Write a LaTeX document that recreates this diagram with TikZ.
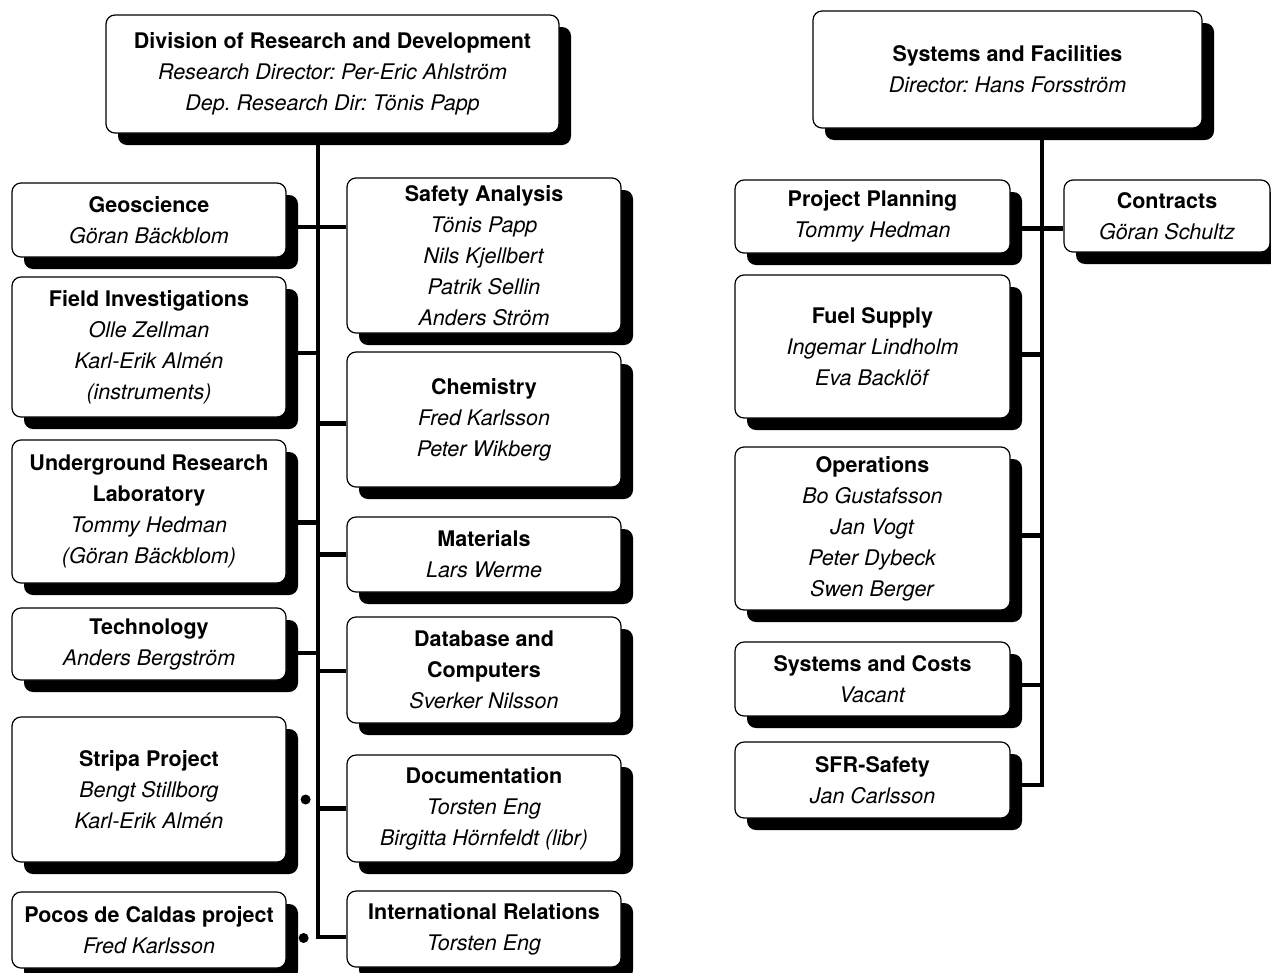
\documentclass[tikz,border=0pt]{standalone}
\usepackage{fontspec}
\setmainfont{TeX Gyre Heros}
\frenchspacing
\usetikzlibrary{shadows, calc}

\begin{document}
\begin{tikzpicture}[
    x=1pt, y=-1pt,
    obox/.style={draw, line width=1.2pt, rounded corners=9pt, fill=white,
                 align=center, inner sep=0pt, minimum width=274pt,
                 font=\fontsize{21.5}{31}\selectfont,
                 drop shadow={fill=black, opacity=1,
                              shadow xshift=12pt, shadow yshift=-12pt}},
    link/.style={line width=4.5pt},
    dot/.style={circle, fill, inner sep=0pt, minimum size=10pt}
  ]
  \useasboundingbox (0,0) rectangle (1271,972);

  % research and development
  \node[obox, minimum width=453pt, minimum height=118pt] (div) at (332.5,74)
    {\textbf{Division of Research and Development}\\
     \textit{Research Director: Per-Eric Ahlström}\\
     \textit{Dep. Research Dir: Tönis Papp}};

  \node[obox, minimum height=74pt] (geo) at (149,220)
    {\textbf{Geoscience}\\\textit{Göran Bäckblom}};
  \node[obox, minimum height=140pt] (field) at (149,347)
    {\textbf{Field Investigations}\\\textit{Olle Zellman}\\
     \textit{Karl-Erik Almén}\\\textit{(instruments)}};
  \node[obox, minimum height=143pt] (url) at (149,511.5)
    {\textbf{Underground Research}\\\textbf{Laboratory}\\
     \textit{Tommy Hedman}\\\textit{(Göran Bäckblom)}};
  \node[obox, minimum height=72pt] (tech) at (149,644)
    {\textbf{Technology}\\\textit{Anders Bergström}};
  \node[obox, minimum height=145pt] (stripa) at (149,789.5)
    {\textbf{Stripa Project}\\\textit{Bengt Stillborg}\\\textit{Karl-Erik Almén}};
  \node[obox, minimum height=76pt] (pocos) at (149,930)
    {\textbf{Pocos de Caldas project}\\\textit{Fred Karlsson}};

  \node[obox, minimum height=155pt] (safety) at (484,255.5)
    {\textbf{Safety Analysis}\\\textit{Tönis Papp}\\\textit{Nils Kjellbert}\\
     \textit{Patrik Sellin}\\\textit{Anders Ström}};
  \node[obox, minimum height=135pt] (chem) at (484,419.5)
    {\textbf{Chemistry}\\\textit{Fred Karlsson}\\\textit{Peter Wikberg}};
  \node[obox, minimum height=75pt] (mat) at (484,554.5)
    {\textbf{Materials}\\\textit{Lars Werme}};
  \node[obox, minimum height=106pt] (dbc) at (484,670)
    {\textbf{Database and}\\\textbf{Computers}\\\textit{Sverker Nilsson}};
  \node[obox, minimum height=107pt] (doc) at (484,808.5)
    {\textbf{Documentation}\\\textit{Torsten Eng}\\\textit{Birgitta Hörnfeldt (libr)}};
  \node[obox, minimum height=76pt] (intl) at (484,929)
    {\textbf{International Relations}\\\textit{Torsten Eng}};

  % systems and facilities
  \node[obox, minimum width=389pt, minimum height=117pt] (sf) at (1007.5,69.5)
    {\textbf{Systems and Facilities}\\\textit{Director: Hans Forsström}};

  \node[obox, minimum width=275pt, minimum height=73pt] (plan) at (872.5,216.5)
    {\textbf{Project Planning}\\\textit{Tommy Hedman}};
  \node[obox, minimum width=206pt, minimum height=72pt] (contracts) at (1167,216)
    {\textbf{Contracts}\\\textit{Göran Schultz}};
  \node[obox, minimum width=275pt, minimum height=143pt] (fuel) at (872.5,346.5)
    {\textbf{Fuel Supply}\\\textit{Ingemar Lindholm}\\\textit{Eva Backlöf}};
  \node[obox, minimum width=275pt, minimum height=163pt] (ops) at (872.5,528.5)
    {\textbf{Operations}\\\textit{Bo Gustafsson}\\\textit{Jan Vogt}\\
     \textit{Peter Dybeck}\\\textit{Swen Berger}};
  \node[obox, minimum width=275pt, minimum height=74pt] (cost) at (872.5,679)
    {\textbf{Systems and Costs}\\\textit{Vacant}};
  \node[obox, minimum width=275pt, minimum height=76pt] (sfr) at (872.5,780)
    {\textbf{SFR-Safety}\\\textit{Jan Carlsson}};

  % connectors
  \coordinate (lbus) at (318,0);
  \coordinate (rbus) at (1042,0);

  \draw[link] (div.south -| lbus) |- ($(intl.west)+(0,8)$);
  \draw[link] ($(geo.east)+(0,7)$) coordinate (g) -- (g -| safety.west);
  \draw[link] ($(field.east)+(0,6)$) coordinate (f) -- (f -| lbus);
  \draw[link] ($(url.east)+(0,11)$) coordinate (u) -- (u -| lbus);
  \draw[link] ($(tech.east)+(0,9)$) coordinate (t) -- (t -| lbus);
  \foreach \n/\d in {chem/4, mat/0, dbc/1, doc/0}
    \draw[link] ($(\n.west)+(0,\d)$) coordinate (m) -- (m -| lbus);

  \node[dot] (sdot) at ($(stripa.east)+(19,10)$) {};
  \node[dot] (pdot) at ($(pocos.east)+(17,8)$) {};

  \draw[link] (sf.south -| rbus) |- ($(sfr.east)+(0,5)$);
  \draw[link] ($(plan.east)+(0,12)$) coordinate (p) -- (p -| contracts.west);
  \foreach \n/\d in {fuel/8, ops/7, cost/6}
    \draw[link] ($(\n.east)+(0,\d)$) coordinate (r) -- (r -| rbus);
\end{tikzpicture}
\end{document}
